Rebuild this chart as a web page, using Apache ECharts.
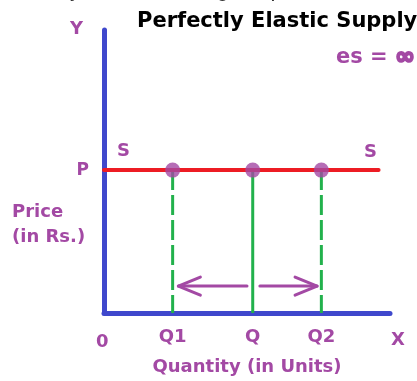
<!DOCTYPE html>
<html>
<head>
<meta charset="utf-8">
<script src="https://cdn.jsdelivr.net/npm/echarts@6/dist/echarts.min.js"></script>
<style>
  html, body { margin: 0; padding: 0; background: #ffffff; }
  #chart { width: 417px; height: 381px; }
</style>
</head>
<body>
<div id="chart"></div>
<script>
// Quantity positions marked on the X axis
const quantityLabels = ['Q1', 'Q', 'Q2'];
const quantityValues = [24, 52, 76];
const dropLineTypes = ['dashed', 'solid', 'dashed'];

// Constant supply price and the extent of the supply line
const priceLabel = 'P';
const priceLevel = 50.5;
const supplyExtent = [0, 96];

// Expansion / contraction arrows: [from, to, level]
const arrowData = [[50, 26, 9.5], [54.5, 74.5, 9.5]];

const axisMax = [100, 100];

const PURPLE = '#a349a4';
const BLUE = '#3f48cc';
const RED = '#ed1c24';
const GREEN = '#22b14c';
const FONT = 'DejaVu Sans';
const LABEL_FONT = 'bold 18px "DejaVu Sans"';

const chart = echarts.init(document.getElementById('chart'), null, { renderer: 'canvas' });

const dropSeries = quantityValues.map((q, i) => ({
  type: 'line',
  name: quantityLabels[i],
  data: [[q, priceLevel], [q, 0]],
  symbol: 'none',
  silent: true,
  z: 2,
  lineStyle: {
    color: GREEN,
    width: 3,
    type: dropLineTypes[i] === 'dashed' ? [20, 5] : 'solid'
  }
}));

const option = {
  animation: false,
  backgroundColor: '#ffffff',
  title: {
    text: 'Perfectly Elastic Supply',
    left: 137,
    top: 11,
    padding: 0,
    textStyle: { fontFamily: FONT, fontWeight: 'bold', fontSize: 21, color: '#000000' }
  },
  grid: { left: 104, top: 30, width: 286, height: 283 },
  xAxis: {
    type: 'value',
    min: 0,
    max: axisMax[0],
    name: 'Quantity (in Units)',
    nameLocation: 'middle',
    nameGap: 45,
    nameTextStyle: { fontFamily: FONT, fontWeight: 'bold', fontSize: 18, color: PURPLE },
    axisLine: { show: true, onZero: false, lineStyle: { color: BLUE, width: 5, cap: 'round' } },
    axisTick: { show: false },
    splitLine: { show: false },
    axisLabel: {
      customValues: quantityValues,
      formatter: v => quantityLabels[quantityValues.indexOf(v)] || '',
      margin: 15,
      fontFamily: FONT, fontWeight: 'bold', fontSize: 18, color: PURPLE
    }
  },
  yAxis: {
    type: 'value',
    min: 0,
    max: axisMax[1],
    axisLine: { show: true, onZero: false, lineStyle: { color: BLUE, width: 5, cap: 'round' } },
    axisTick: { show: false },
    splitLine: { show: false },
    axisLabel: {
      customValues: [priceLevel],
      formatter: () => priceLabel,
      margin: 15,
      fontFamily: FONT, fontWeight: 'bold', fontSize: 17, color: PURPLE
    }
  },
  graphic: [
    { type: 'text', left: 70, top: -21,
      style: { text: 'y with the change in price', fill: '#333333', font: '22px "Liberation Sans"' } },
    { type: 'text', left: 336, top: 45,
      style: {
        text: '{e|es = }{inf|∞}',
        rich: {
          e: { fill: PURPLE, font: 'bold 21px "DejaVu Sans"' },
          inf: { fill: PURPLE, font: 'bold 24px "DejaVu Sans"', stroke: PURPLE, lineWidth: 2 }
        }
      } },
    { type: 'text', left: 70, top: 20,
      style: { text: 'Y', fill: PURPLE, font: LABEL_FONT } },
    { type: 'text', left: 96, top: 333,
      style: { text: '0', fill: PURPLE, font: LABEL_FONT } },
    { type: 'text', left: 391, top: 331,
      style: { text: 'X', fill: PURPLE, font: LABEL_FONT } },
    { type: 'text', left: 12, top: 200,
      style: { text: 'Price\n(in Rs.)', fill: PURPLE, font: LABEL_FONT, lineHeight: 25 } },
    { type: 'text', left: 117, top: 142,
      style: { text: 'S', fill: PURPLE, font: LABEL_FONT } },
    { type: 'text', left: 364, top: 143,
      style: { text: 'S', fill: PURPLE, font: LABEL_FONT } }
  ],
  series: [
    ...dropSeries,
    {
      type: 'line',
      name: 'Supply',
      data: supplyExtent.map(x => [x, priceLevel]),
      symbol: 'none',
      silent: true,
      z: 3,
      lineStyle: { color: RED, width: 4, cap: 'round' }
    },
    {
      type: 'scatter',
      name: 'Equilibria',
      data: quantityValues.map(q => [q, priceLevel]),
      symbol: 'circle',
      symbolSize: 15,
      z: 4,
      itemStyle: { color: PURPLE }
    },
    {
      type: 'custom',
      name: 'Arrows',
      data: arrowData,
      encode: { x: [0, 1], y: 2 },
      z: 4,
      renderItem: function (params, api) {
        const start = api.coord([api.value(0), api.value(2)]);
        const end = api.coord([api.value(1), api.value(2)]);
        const dir = end[0] > start[0] ? 1 : -1;
        const style = { stroke: PURPLE, lineWidth: 3, fill: null, lineCap: 'round', lineJoin: 'round' };
        return {
          type: 'group',
          children: [
            { type: 'polyline', shape: { points: [start, end] }, style: style },
            { type: 'polyline',
              shape: { points: [[end[0] - dir * 22, end[1] - 9], end, [end[0] - dir * 22, end[1] + 9]] },
              style: style }
          ]
        };
      }
    }
  ]
};

chart.setOption(option);
</script>
</body>
</html>
